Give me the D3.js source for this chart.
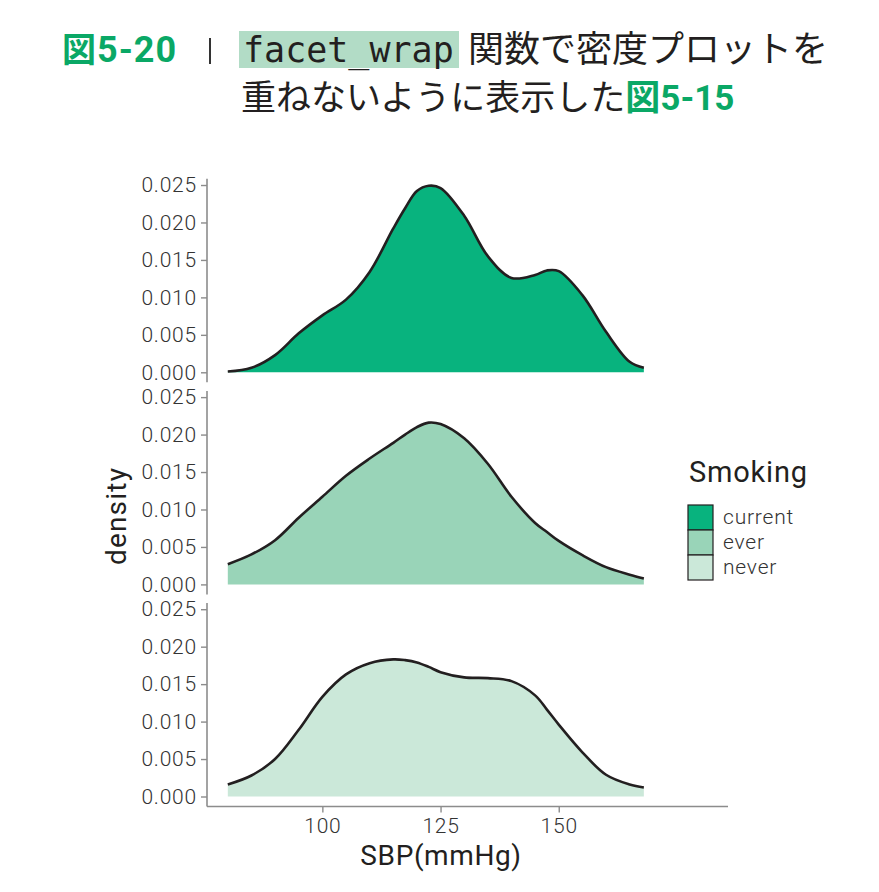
<!DOCTYPE html>
<html>
<head>
<meta charset="utf-8">
<script src="https://d3js.org/d3.v7.min.js"></script>
<title>図5-20</title>
<style>
  body { margin: 0; background: #fff; }
  #chart { width: 879px; height: 892px; }
</style>
</head>
<body>
<div id="chart"></div>
<script>
var sbp = [80, 85, 90, 95, 100, 105, 110, 115, 117.5, 120, 122.5, 125, 130, 135, 140, 145, 147.5, 150, 155, 160, 165, 168];
var current = [0.0001, 0.0006, 0.0023, 0.0052, 0.0076, 0.0097, 0.0134, 0.0192, 0.0219, 0.0242, 0.0249, 0.0246, 0.0209, 0.0155, 0.0126, 0.0130, 0.0136, 0.0135, 0.0103, 0.0054, 0.0014, 0.0006];
var ever    = [0.0027, 0.0040, 0.0059, 0.0089, 0.0117, 0.0145, 0.0168, 0.0189, 0.0200, 0.0210, 0.0216, 0.0214, 0.0195, 0.0161, 0.0117, 0.0082, 0.0070, 0.0058, 0.0039, 0.0023, 0.0013, 0.0008];
var never   = [0.0016, 0.0028, 0.0050, 0.0089, 0.0133, 0.0163, 0.0178, 0.0183, 0.0182, 0.0179, 0.0173, 0.0166, 0.0159, 0.0158, 0.0154, 0.0135, 0.0116, 0.0096, 0.0059, 0.0029, 0.0016, 0.0012];

var groups = ["current", "ever", "never"];
var colors = ["#08b37e", "#99d4b8", "#cbe8d9"];
var yTicks = [0, 0.005, 0.010, 0.015, 0.020, 0.025];
var xTicks = [100, 125, 150];

var series = [current, ever, never];

var SANS = "Roboto, 'Noto Sans', sans-serif";
var JP = "'Noto Sans CJK JP', sans-serif";
var MONO = "'DejaVu Sans Mono', monospace";

var svg = d3.select("#chart").append("svg")
  .attr("width", 879)
  .attr("height", 892);

// ---- title ----
var title = svg.append("g");
title.append("text").style("font-family", JP)
  .attr("x", 62).attr("y", 62)
  .attr("font-size", 34).attr("font-weight", 700).attr("fill", "#0aa866")
  .text("図");
title.append("text").style("font-family", SANS)
  .attr("x", 97).attr("y", 62)
  .attr("font-size", 36).attr("font-weight", 700).attr("fill", "#0aa866")
  .attr("letter-spacing", 1)
  .text("5-20");
title.append("line")
  .attr("x1", 210).attr("x2", 210).attr("y1", 38).attr("y2", 64)
  .attr("stroke", "#333").attr("stroke-width", 2);
title.append("rect")
  .attr("x", 239).attr("y", 31).attr("width", 220).attr("height", 37)
  .attr("fill", "#b2dcc6");
title.append("text").style("font-family", MONO)
  .attr("x", 243).attr("y", 62)
  .attr("font-size", 35).attr("fill", "#231f20")
  .text("facet_wrap");
title.append("text").style("font-family", JP)
  .attr("x", 468).attr("y", 62)
  .attr("font-size", 36).attr("fill", "#231f20")
  .text("関数で密度プロットを");
var t2 = title.append("text").style("font-family", JP)
  .attr("x", 241).attr("y", 110)
  .attr("font-size", 35).attr("fill", "#231f20");
t2.append("tspan").text("重ねないように表示した");
t2.append("tspan").attr("font-weight", 700).attr("fill", "#0aa866").text("図");
t2.append("tspan").style("font-family", SANS)
  .attr("font-weight", 700).attr("fill", "#0aa866").text("5-15");

// ---- panels ----
var left = 207, right = 728;
var panelH = 203.5, panelTop = 178.8, panelStep = 212.1;

var x = d3.scaleLinear().domain([75.6, 185.8]).range([left, right]);
var y = d3.scaleLinear().domain([-0.001335, 0.02583]).range([panelH, 0]);

var area = d3.area()
  .x(function(d) { return x(d[0]); })
  .y0(y(0))
  .y1(function(d) { return y(d[1]); })
  .curve(d3.curveCatmullRom.alpha(0.5));
var line = d3.line()
  .x(function(d) { return x(d[0]); })
  .y(function(d) { return y(d[1]); })
  .curve(d3.curveCatmullRom.alpha(0.5));

function styleTicks(sel) {
  sel.selectAll(".tick line").attr("stroke", "#8c8c8c").attr("stroke-width", 1.4);
  sel.selectAll(".tick text")
    .style("font-family", SANS)
    .attr("font-size", 21).attr("font-weight", 300).attr("fill", "#333")
    .attr("letter-spacing", 0.8);
}

groups.forEach(function(g, i) {
  var pts = sbp.map(function(s, k) { return [s, series[i][k]]; });
  var p = svg.append("g").attr("transform", "translate(0," + (panelTop + i * panelStep) + ")");

  p.append("path").datum(pts)
    .attr("d", area)
    .attr("fill", colors[i]);
  p.append("path").datum(pts)
    .attr("d", line)
    .attr("fill", "none")
    .attr("stroke", "#231f20")
    .attr("stroke-width", 2.6);

  var yAxis = p.append("g")
    .attr("transform", "translate(" + left + ",0)")
    .call(d3.axisLeft(y).tickValues(yTicks).tickFormat(d3.format(".3f")).tickSize(6).tickPadding(4));
  yAxis.select(".domain").remove();
  yAxis.append("line")
    .attr("y1", 0).attr("y2", panelH)
    .attr("stroke", "#8c8c8c").attr("stroke-width", 1.6);
  styleTicks(yAxis);
});

// x axis at the bottom panel
var xAxis = svg.append("g")
  .attr("transform", "translate(0," + (panelTop + 2 * panelStep + panelH) + ")")
  .call(d3.axisBottom(x).tickValues(xTicks).tickSize(6).tickPadding(6));
xAxis.select(".domain").remove();
xAxis.append("line")
  .attr("x1", left).attr("x2", right)
  .attr("stroke", "#8c8c8c").attr("stroke-width", 1.6);
styleTicks(xAxis);

// axis titles
svg.append("text").style("font-family", SANS)
  .attr("x", 441).attr("y", 865)
  .attr("text-anchor", "middle")
  .attr("font-size", 28).attr("fill", "#231f20")
  .attr("letter-spacing", 0.6)
  .text("SBP(mmHg)");
svg.append("text").style("font-family", SANS)
  .attr("transform", "translate(126,516) rotate(-90)")
  .attr("text-anchor", "middle")
  .attr("font-size", 28).attr("fill", "#231f20")
  .attr("letter-spacing", 1.2)
  .text("density");

// ---- legend ----
var legend = svg.append("g").attr("transform", "translate(688,0)");
legend.append("text").style("font-family", SANS)
  .attr("x", 1).attr("y", 482)
  .attr("font-size", 29).attr("fill", "#231f20")
  .attr("letter-spacing", 0.8)
  .text("Smoking");
groups.forEach(function(g, i) {
  legend.append("rect")
    .attr("x", 0).attr("y", 505 + i * 25)
    .attr("width", 25).attr("height", 25)
    .attr("fill", colors[i])
    .attr("stroke", "#231f20").attr("stroke-width", 1.2);
  legend.append("text").style("font-family", SANS)
    .attr("x", 35).attr("y", 505 + i * 25 + 19)
    .attr("font-size", 21).attr("font-weight", 300).attr("fill", "#333")
    .attr("letter-spacing", 0.8)
    .text(g);
});
</script>
</body>
</html>
